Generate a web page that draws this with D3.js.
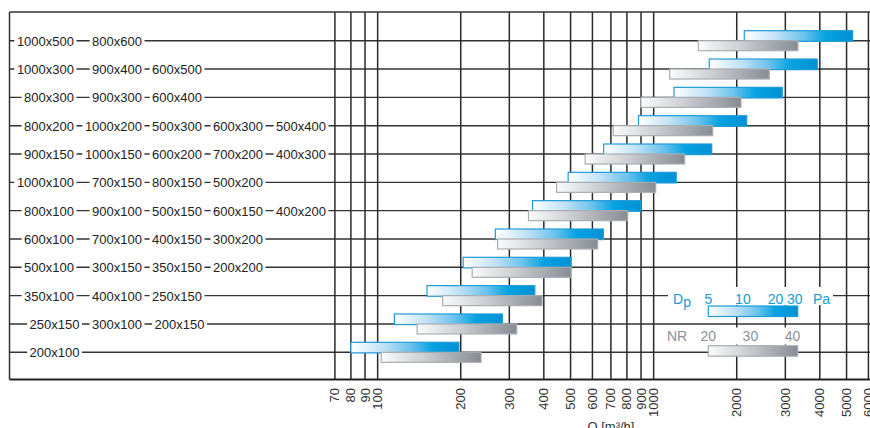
<!DOCTYPE html>
<html>
<head>
<meta charset="utf-8">
<script src="https://cdn.jsdelivr.net/npm/d3@7/dist/d3.min.js"></script>
<style>
  html, body { margin: 0; padding: 0; background: #fff; }
  svg { display: block; font-family: "Liberation Sans", Arial, Helvetica, sans-serif; }
</style>
</head>
<body>
<svg id="chart" width="870" height="428"></svg>
<script>
// ---------------- data ----------------
const rowLabels = [
  ["1000x500", "800x600"],
  ["1000x300", "900x400", "600x500"],
  ["800x300", "900x300", "600x400"],
  ["800x200", "1000x200", "500x300", "600x300", "500x400"],
  ["900x150", "1000x150", "600x200", "700x200", "400x300"],
  ["1000x100", "700x150", "800x150", "500x200"],
  ["800x100", "900x100", "500x150", "600x150", "400x200"],
  ["600x100", "700x100", "400x150", "300x200"],
  ["500x100", "300x150", "350x150", "200x200"],
  ["350x100", "400x100", "250x150"],
  ["250x150", "300x100", "200x150"],
  ["200x100"]
];
// air flow Q [m3/h] at Dp = 5 Pa and 30 Pa
const dpMin = [2130, 1590, 1185, 881, 659, 490, 364, 267, 204, 151, 115, 80];
const dpMax = [5260, 3915, 2924, 2173, 1623, 1207, 899, 657, 502, 371, 283, 197];
// air flow Q [m3/h] at NR 20 and NR 40
const nrMin = [1451, 1143, 899, 714, 565, 445, 352, 272, 220, 172, 139, 103];
const nrMax = [3332, 2623, 2072, 1636, 1295, 1017, 805, 627, 502, 394, 319, 237];

const xTicks = [70, 80, 90, 100, 200, 300, 400, 500, 600, 700, 800, 900, 1000, 2000, 3000, 4000, 5000, 6000];
const dpLegendTicks = [5, 10, 20, 30];
const nrLegendTicks = [20, 30, 40];
const axisTitle = "Q [m³/h]";

// ---------------- layout ----------------
const svg = d3.select("#chart");
const topY = 12, bottomY = 379.5, leftEdge = 9.5, plotRight = 870;

const x = d3.scaleLog().domain([70, 6100]).range([334.9, 870.4]);
const y = d3.scaleLinear().domain([0, rowLabels.length - 1]).range([40.7, 352.3]);
const rows = d3.range(rowLabels.length);

const defs = svg.append("defs");
const bg = defs.append("linearGradient").attr("id", "blueGrad");
[["0%", "#ffffff"], ["30%", "#bfe2f5"], ["55%", "#6cc3ec"], ["75%", "#06a3e1"], ["100%", "#0090d4"]]
  .forEach(s => bg.append("stop").attr("offset", s[0]).attr("stop-color", s[1]));
const gg = defs.append("linearGradient").attr("id", "grayGrad");
[["0%", "#fbfbfc"], ["45%", "#c9ccd0"], ["100%", "#868c93"]]
  .forEach(s => gg.append("stop").attr("offset", s[0]).attr("stop-color", s[1]));

// horizontal row lines (label panel + plot)
svg.append("g").selectAll("line").data(rows).join("line")
  .attr("x1", leftEdge).attr("x2", plotRight)
  .attr("y1", d => y(d)).attr("y2", d => y(d))
  .attr("stroke", "#333").attr("stroke-width", 1.4);

// vertical grid lines
svg.append("g").selectAll("line").data(xTicks).join("line")
  .attr("x1", d => x(d)).attr("x2", d => x(d))
  .attr("y1", topY).attr("y2", bottomY)
  .attr("stroke", "#2a2a2a").attr("stroke-width", 1.5);

// frame
svg.append("line").attr("x1", leftEdge).attr("x2", plotRight).attr("y1", topY).attr("y2", topY)
  .attr("stroke", "#333").attr("stroke-width", 1.4);
svg.append("line").attr("x1", leftEdge).attr("x2", leftEdge).attr("y1", topY).attr("y2", bottomY)
  .attr("stroke", "#333").attr("stroke-width", 1.5);
svg.append("line").attr("x1", leftEdge).attr("x2", plotRight).attr("y1", bottomY).attr("y2", bottomY)
  .attr("stroke", "#222").attr("stroke-width", 2);

// row labels in the left panel (right-aligned columns)
const colEnd = [74, 142, 202, 263, 326];
const labG = svg.append("g").attr("font-size", 13).attr("fill", "#222");
rowLabels.forEach((labs, r) => {
  labs.forEach((t, c) => {
    let xe = colEnd[c];
    if (r >= 10 && c === 0) xe = 79.5;
    if (r >= 10 && c === 2) xe = 204.5;
    const txt = labG.append("text").attr("x", xe).attr("y", y(r) + 5)
      .attr("text-anchor", "end").text(t);
    const bb = txt.node().getBBox();
    labG.insert("rect", () => txt.node())
      .attr("x", bb.x - 2.5).attr("y", y(r) - 4).attr("width", bb.width + 5).attr("height", 8)
      .attr("fill", "#fff");
  });
});

// bars
const barG = svg.append("g");
barG.selectAll("rect.dp").data(rows).join("rect").attr("class", "dp")
  .attr("x", d => x(dpMin[d])).attr("width", d => x(dpMax[d]) - x(dpMin[d]))
  .attr("y", d => y(d) - 10).attr("height", 10.6)
  .attr("fill", "url(#blueGrad)").attr("stroke", "#1f9bd8").attr("stroke-width", 1.2);
barG.selectAll("rect.nr").data(rows).join("rect").attr("class", "nr")
  .attr("x", d => x(nrMin[d])).attr("width", d => x(nrMax[d]) - x(nrMin[d]))
  .attr("y", d => y(d)).attr("height", 10)
  .attr("fill", "url(#grayGrad)").attr("stroke", "#a9adb2").attr("stroke-width", 1.2);

// x tick labels
svg.append("g").attr("font-size", 13).attr("fill", "#333")
  .selectAll("text").data(xTicks).join("text")
  .attr("transform", d => `translate(${x(d) + 4.5},388) rotate(-90)`)
  .attr("text-anchor", "end").text(d => d);

svg.append("text").attr("x", 611).attr("y", 431).attr("text-anchor", "middle")
  .attr("font-size", 13).attr("fill", "#333").text(axisTitle);

// legend
const dpScale = d3.scaleLog().domain([5, 30]).range([708.3, 797.7]);
const nrScale = d3.scaleLinear().domain([20, 40]).range([708.3, 792.5]);
const legBlue = "#1a9ad6", legGray = "#8c9097";

svg.append("rect").attr("x", 668).attr("y", 287).attr("width", 165).attr("height", 18).attr("fill", "#fff");
svg.append("rect").attr("x", 664).attr("y", 327.5).attr("width", 142).attr("height", 17).attr("fill", "#fff");

const dpT = svg.append("text").attr("x", 673).attr("y", 304).attr("font-size", 14).attr("fill", legBlue);
dpT.append("tspan").text("D");
dpT.append("tspan").attr("dy", 3).text("p");
svg.append("g").attr("font-size", 14).attr("fill", legBlue)
  .selectAll("text").data(dpLegendTicks).join("text")
  .attr("x", d => dpScale(d) - (d === 30 ? 3 : d === 20 ? 2 : 0)).attr("y", 304)
  .attr("text-anchor", "middle").text(d => d);
svg.append("text").attr("x", 813).attr("y", 304).attr("font-size", 14).attr("fill", legBlue).text("Pa");
svg.append("rect").attr("x", dpScale(5)).attr("y", 306).attr("width", dpScale(30) - dpScale(5)).attr("height", 10.5)
  .attr("fill", "url(#blueGrad)").attr("stroke", "#1f9bd8").attr("stroke-width", 1.2);

svg.append("text").attr("x", 667).attr("y", 341).attr("font-size", 14).attr("fill", legGray).text("NR");
svg.append("g").attr("font-size", 14).attr("fill", legGray)
  .selectAll("text").data(nrLegendTicks).join("text")
  .attr("x", d => nrScale(d)).attr("y", 341)
  .attr("text-anchor", "middle").text(d => d);
svg.append("rect").attr("x", dpScale(5)).attr("y", 345.7).attr("width", dpScale(30) - dpScale(5)).attr("height", 10.5)
  .attr("fill", "url(#grayGrad)").attr("stroke", "#a9adb2").attr("stroke-width", 1.2);
</script>
</body>
</html>
